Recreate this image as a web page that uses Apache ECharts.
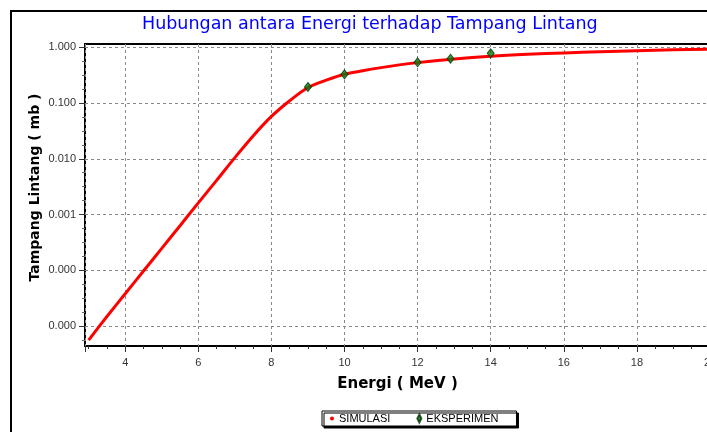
<!DOCTYPE html>
<html>
<head>
<meta charset="utf-8">
<script src="https://cdn.jsdelivr.net/npm/echarts@6/dist/echarts.min.js"></script>
<style>
html,body{margin:0;padding:0;background:#fff;overflow:hidden;}
#c{width:707px;height:432px;}
</style>
</head>
<body>
<div id="c"></div>
<script>
// Simulation curve (Energy in MeV, cross section in mb)
var simEnergy = [3.0, 3.5, 4, 4.5, 5, 5.5, 6, 6.5, 7, 7.5, 8, 8.5, 9, 9.5, 10, 10.5, 11, 11.5, 12, 13, 14, 15, 16, 17, 18, 19, 20];
var simSigma = [5.6e-6, 1.48e-5, 3.8e-5, 9.7e-5, 2.47e-4, 6.3e-4, 1.62e-3, 4.1e-3, 0.0105, 0.0257, 0.0575, 0.11, 0.19, 0.257, 0.328, 0.38, 0.432, 0.484, 0.531, 0.617, 0.692, 0.75, 0.794, 0.832, 0.867, 0.90, 0.929];
// Experiment points
var expEnergy = [9, 10, 12, 12.9, 14];
var expSigma = [0.194, 0.327, 0.538, 0.624, 0.78];
// Y tick values (decades)
var yTicks = [0.00001, 0.0001, 0.001, 0.01, 0.1, 1];

var titleText = 'Hubungan antara Energi terhadap Tampang Lintang';
var xName = 'Energi ( MeV )';
var yName = 'Tampang Lintang ( mb )';
var seriesNames = ['SIMULASI', 'EKSPERIMEN'];

var yMin = 4.38e-6, yMax = 1.146;

var simData = simEnergy.map(function (e, i) { return [e, simSigma[i]]; });
var expData = expEnergy.map(function (e, i) { return [e, expSigma[i]]; });

// quarter-decade minor tick positions (log10 space) for the helper axis
var minorLog = [];
for (var k = -24; k <= 0; k++) { if (k % 4 !== 0) minorLog.push(k / 4); }

var chart = echarts.init(document.getElementById('c'), null, {renderer: 'canvas'});
var option = {
  backgroundColor: '#fff',
  animation: false,
  graphic: [{
    type: 'rect',
    z: -10,
    shape: {x: 11, y: 11, width: 780, height: 500},
    style: {fill: '#fff', stroke: '#000', lineWidth: 2}
  }],
  title: {
    text: titleText,
    left: 137,
    top: 10,
    textStyle: {color: '#0000ff', fontFamily: 'DejaVu Sans', fontSize: 17.5, fontWeight: 'normal'}
  },
  legend: {
    left: 322,
    top: 411,
    orient: 'horizontal',
    itemWidth: 4,
    itemHeight: 8,
    itemGap: 26,
    padding: [2, 18, 2, 8],
    borderColor: '#000',
    borderWidth: 1,
    backgroundColor: '#fff',
    shadowColor: '#000',
    shadowBlur: 0,
    shadowOffsetX: 2,
    shadowOffsetY: 2,
    textStyle: {fontFamily: 'Liberation Sans', fontSize: 11, color: '#000'},
    data: [
      {name: seriesNames[0], icon: 'circle'},
      {name: seriesNames[1], icon: 'diamond'}
    ]
  },
  grid: {
    left: 85, top: 44, right: -3, bottom: 86,
    containLabel: false,
    outerBoundsMode: 'none',
    show: true, borderColor: '#000', borderWidth: 2, backgroundColor: '#fff'
  },
  xAxis: {
    type: 'value',
    min: 2.9,
    max: 20,
    minInterval: 2,
    maxInterval: 2,
    name: xName,
    nameLocation: 'middle',
    nameGap: 31,
    nameMoveOverlap: false,
    nameTextStyle: {fontFamily: 'DejaVu Sans', fontSize: 15, fontWeight: 'bold', color: '#000'},
    axisLine: {show: false, onZero: false},
    axisTick: {show: true, length: 6, lineStyle: {color: '#333'}},
    minorTick: {show: true, splitNumber: 4, length: 3, lineStyle: {color: '#333'}},
    axisLabel: {showMinLabel: false, margin: 11, fontFamily: 'Liberation Sans', fontSize: 11, color: '#333'},
    splitLine: {show: true, lineStyle: {color: '#888', type: [3, 3], width: 1}}
  },
  yAxis: [{
    type: 'log',
    logBase: 10,
    min: yMin,
    max: yMax,
    name: yName,
    nameLocation: 'middle',
    nameGap: 43,
    nameMoveOverlap: false,
    nameTextStyle: {fontFamily: 'DejaVu Sans', fontSize: 14, fontWeight: 'bold', color: '#000', padding: [0, 0, 0, 15]},
    axisLine: {show: false},
    axisTick: {show: true, length: 6, customValues: yTicks, lineStyle: {color: '#333'}},
    axisLabel: {
      customValues: yTicks, margin: 9,
      fontFamily: 'Liberation Sans', fontSize: 11, color: '#333',
      formatter: function (v) { return Number(v).toFixed(3); }
    },
    splitLine: {show: true, lineStyle: {color: '#888', type: [3, 3], width: 1}}
  }, {
    type: 'value',
    position: 'left',
    min: Math.log10(yMin),
    max: Math.log10(yMax),
    axisLine: {show: false, onZero: false},
    axisTick: {show: true, length: 3, customValues: minorLog, lineStyle: {color: '#666'}},
    axisLabel: {show: false},
    splitLine: {show: false}
  }],
  series: [
    {
      name: seriesNames[0],
      type: 'line',
      data: simData,
      smooth: 0.3,
      showSymbol: false,
      symbol: 'circle',
      itemStyle: {color: '#ff0000'},
      lineStyle: {color: '#ff0000', width: 3},
      z: 2
    },
    {
      name: seriesNames[1],
      type: 'scatter',
      data: expData,
      symbol: 'diamond',
      symbolSize: [7, 9],
      itemStyle: {color: '#0a7a0a', borderColor: '#003300', borderWidth: 1},
      z: 3
    }
  ]
};
chart.setOption(option);
</script>
</body>
</html>
